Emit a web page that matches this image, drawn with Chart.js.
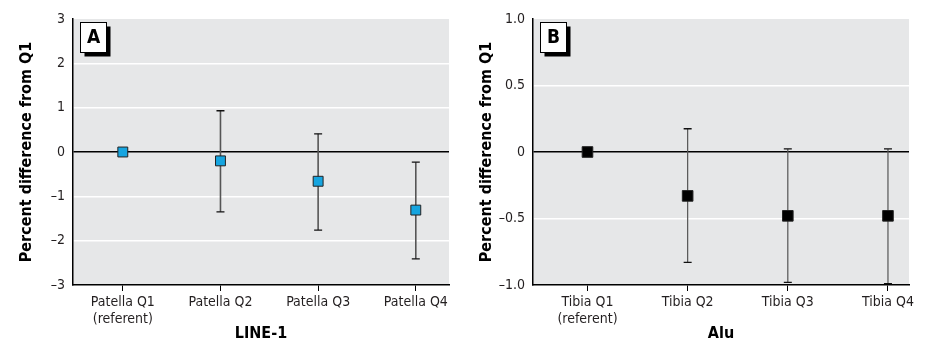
<!DOCTYPE html>
<html>
<head>
<meta charset="utf-8">
<script src="https://cdn.jsdelivr.net/npm/chart.js@4/dist/chart.umd.min.js"></script>
<style>
  html, body { margin: 0; padding: 0; background: #fff; }
  #wrap { position: relative; width: 926px; height: 343px; }
  canvas { position: absolute; top: 0; }
</style>
</head>
<body>
<div id="wrap">
  <canvas id="chartA" width="463" height="343" style="left:0"></canvas>
  <canvas id="chartB" width="463" height="343" style="left:463px"></canvas>
</div>
<script>
// panel A - LINE-1
const catsA = [['Patella Q1', '(referent)'], 'Patella Q2', 'Patella Q3', 'Patella Q4'];
const estA = [0, -0.20, -0.66, -1.31];
const lowA = [null, -1.35, -1.76, -2.41];
const highA = [null, 0.93, 0.41, -0.23];

// panel B - Alu
const catsB = [['Tibia Q1', '(referent)'], 'Tibia Q2', 'Tibia Q3', 'Tibia Q4'];
const estB = [0, -0.33, -0.48, -0.48];
const lowB = [null, -0.83, -0.98, -0.99];
const highB = [null, 0.175, 0.023, 0.023];

const FONT = "'Liberation Sans Narrow', 'DejaVu Sans Condensed', sans-serif";
const INK = '#231f20';

const plotBg = {
    id: 'plotBg',
    beforeDraw(chart) {
        const a = chart.chartArea;
        const ctx = chart.ctx;
        ctx.save();
        ctx.fillStyle = '#e6e7e8';
        ctx.fillRect(a.left, a.top, a.right - a.left, a.bottom - a.top);
        ctx.restore();
    }
};

const errorBars = {
    id: 'errorBars',
    beforeDatasetsDraw(chart, args, opts) {
        const ctx = chart.ctx;
        const xs = chart.scales.x, ys = chart.scales.y;
        ctx.save();
        for (let i = 0; i < opts.low.length; i++) {
            if (opts.low[i] == null) continue;
            const x = xs.getPixelForValue(i + 1);
            const y1 = ys.getPixelForValue(opts.low[i]);
            const y2 = ys.getPixelForValue(opts.high[i]);
            ctx.strokeStyle = '#555';
            ctx.lineWidth = opts.width;
            ctx.beginPath();
            ctx.moveTo(x, y1);
            ctx.lineTo(x, y2);
            ctx.stroke();
            ctx.strokeStyle = '#111';
            ctx.lineWidth = 1.3;
            ctx.beginPath();
            ctx.moveTo(x - 4, y1); ctx.lineTo(x + 4, y1);
            ctx.moveTo(x - 4, y2); ctx.lineTo(x + 4, y2);
            ctx.stroke();
        }
        ctx.restore();
    }
};

const panelLabel = {
    id: 'panelLabel',
    afterDraw(chart, args, opts) {
        const a = chart.chartArea;
        const ctx = chart.ctx;
        const x = a.left + 7.5, y = a.top + 3.5, w = 26, h = 30;
        ctx.save();
        ctx.fillStyle = '#000';
        ctx.fillRect(x + 4, y + 4, w, h);
        ctx.fillStyle = '#fff';
        ctx.fillRect(x, y, w, h);
        ctx.strokeStyle = '#000';
        ctx.lineWidth = 1;
        ctx.strokeRect(x, y, w, h);
        ctx.fillStyle = '#000';
        ctx.font = 'bold 19px ' + FONT;
        ctx.textAlign = 'center';
        ctx.textBaseline = 'middle';
        ctx.fillText(opts.text, x + w / 2, y + h / 2 + 1);
        ctx.restore();
    }
};

function makePanel(id, cats, est, low, high, opt) {
    const ctx = document.getElementById(id);
    return new Chart(ctx, {
        type: 'scatter',
        data: {
            datasets: [{
                data: est.map((v, i) => ({ x: i + 1, y: v })),
                pointStyle: 'rect',
                pointRadius: opt.radius,
                pointHoverRadius: opt.radius,
                backgroundColor: opt.fill,
                borderColor: '#222',
                borderWidth: 1
            }]
        },
        options: {
            responsive: false,
            animation: false,
            events: [],
            layout: { padding: { top: 19, right: opt.padRight, left: 0, bottom: 0 } },
            plugins: {
                legend: { display: false },
                tooltip: { enabled: false },
                errorBars: { low: low, high: high, width: opt.barWidth },
                panelLabel: { text: opt.label }
            },
            scales: {
                x: {
                    type: 'linear',
                    min: opt.xmin,
                    max: opt.xmax,
                    afterBuildTicks(scale) {
                        scale.ticks = cats.map((c, i) => ({ value: i + 1 }));
                    },
                    afterFit(scale) { scale.height = 58; },
                    ticks: {
                        autoSkip: false,
                        maxRotation: 0,
                        padding: 3,
                        color: INK,
                        font: { family: FONT, size: 14 },
                        callback: (v) => cats[v - 1]
                    },
                    grid: {
                        drawOnChartArea: false,
                        drawTicks: true,
                        tickLength: 6,
                        color: '#000',
                        lineWidth: 1
                    },
                    border: { display: true, color: '#000', width: 1.5 },
                    title: {
                        display: true,
                        text: opt.xTitle,
                        color: '#000',
                        font: { family: FONT, size: 16, weight: 'bold' },
                        padding: { top: 0, bottom: 0 }
                    }
                },
                y: {
                    min: opt.ymin,
                    max: opt.ymax,
                    afterFit(scale) { scale.width = opt.yWidth; },
                    ticks: {
                        stepSize: opt.step,
                        padding: 8,
                        color: INK,
                        font: { family: FONT, size: 14 },
                        callback: opt.fmt
                    },
                    grid: {
                        drawTicks: false,
                        color: (c) => c.tick.value === 0 ? '#000' :
                            (c.tick.value === opt.ymin || c.tick.value === opt.ymax ? 'rgba(0,0,0,0)' : '#fff'),
                        lineWidth: 1.5
                    },
                    border: { display: true, color: '#000', width: 1.5 },
                    title: {
                        display: true,
                        text: 'Percent difference from Q1',
                        color: '#000',
                        font: { family: FONT, size: 16, weight: 'bold' },
                        padding: { top: opt.titlePad, bottom: 0 }
                    }
                }
            }
        },
        plugins: [plotBg, errorBars, panelLabel]
    });
}

makePanel('chartA', catsA, estA, lowA, highA, {
    label: 'A', xTitle: 'LINE-1', fill: '#16a5e0', radius: 7, barWidth: 1.6,
    xmin: 0.49, xmax: 4.34, ymin: -3, ymax: 3, step: 1,
    yWidth: 73, padRight: 14, titlePad: 17,
    fmt: (v) => v < 0 ? '\u2013' + Math.abs(v) : String(v)
});

makePanel('chartB', catsB, estB, lowB, highB, {
    label: 'B', xTitle: 'Alu', fill: '#000', radius: 7.5, barWidth: 1.2,
    xmin: 0.456, xmax: 4.21, ymin: -1, ymax: 1, step: 0.5,
    yWidth: 70, padRight: 17, titlePad: 14,
    fmt: (v) => v === 0 ? '0' : (v < 0 ? '\u2013' : '') + Math.abs(v).toFixed(1)
});
</script>
</body>
</html>
